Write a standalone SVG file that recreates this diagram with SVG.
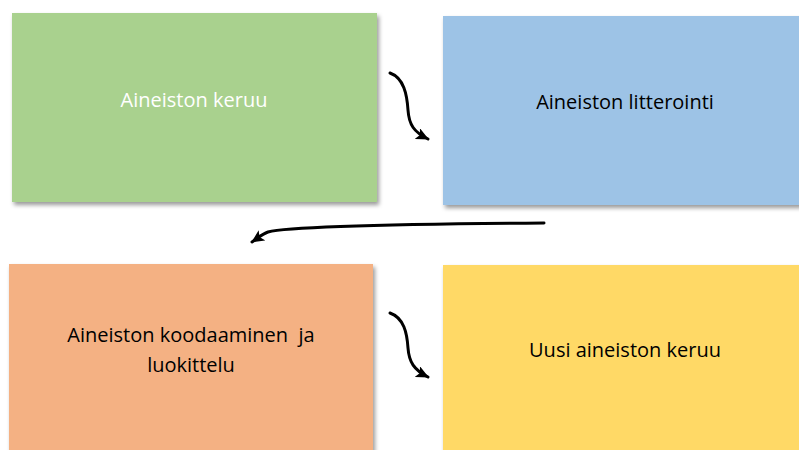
<svg xmlns="http://www.w3.org/2000/svg" width="799" height="450" viewBox="0 0 799 450">
<defs>
<filter id="sh" x="-10%" y="-10%" width="130%" height="130%">
<feDropShadow dx="2" dy="3" stdDeviation="2" flood-color="#000" flood-opacity="0.4"/>
</filter>
<marker id="ah" markerWidth="14" markerHeight="12" refX="12" refY="6" orient="auto" markerUnits="userSpaceOnUse">
<path d="M0,0 L13,6 L0,12 L3,6 Z" fill="#000"/>
</marker>
<style>
.box{filter:url(#sh)}
.t{font-family:"Open Sans","Liberation Sans",sans-serif;font-size:20px;text-anchor:middle}
.c{fill:none;stroke:#000;stroke-width:3;stroke-linecap:round;marker-end:url(#ah)}
</style>
</defs>
<rect width="799" height="450" fill="#fff"/>
<g id="n1">
<rect class="box" x="12" y="13" width="365" height="189" fill="#A9D18E"/>
<text class="t" x="194" y="107" fill="#fff">Aineiston keruu</text>
</g>
<g id="n2">
<rect class="box" x="443" y="16" width="365" height="189" fill="#9DC3E6"/>
<text class="t" x="625" y="109" fill="#000">Aineiston litterointi</text>
</g>
<g id="n3">
<rect class="box" x="9" y="264" width="364" height="200" fill="#F4B183"/>
<text class="t" x="191" y="342" fill="#000" xml:space="preserve">Aineiston koodaaminen  ja</text>
<text class="t" x="191" y="372" fill="#000">luokittelu</text>
</g>
<g id="n4">
<rect class="box" x="443" y="265" width="365" height="200" fill="#FFD966"/>
<text class="t" x="625" y="357" fill="#000">Uusi aineiston keruu</text>
</g>
<g id="connectors">
<path class="c" d="M390,73 C404,78 407,95 408,110 C409,125 414,132 428,139"/>
<path class="c" d="M544,223 C420,224 290,226 268,232 C262,234 258,238 252,242"/>
<path class="c" d="M390,313 C404,318 407,333 408,348 C409,362 414,370 428,377"/>
</g>
</svg>
